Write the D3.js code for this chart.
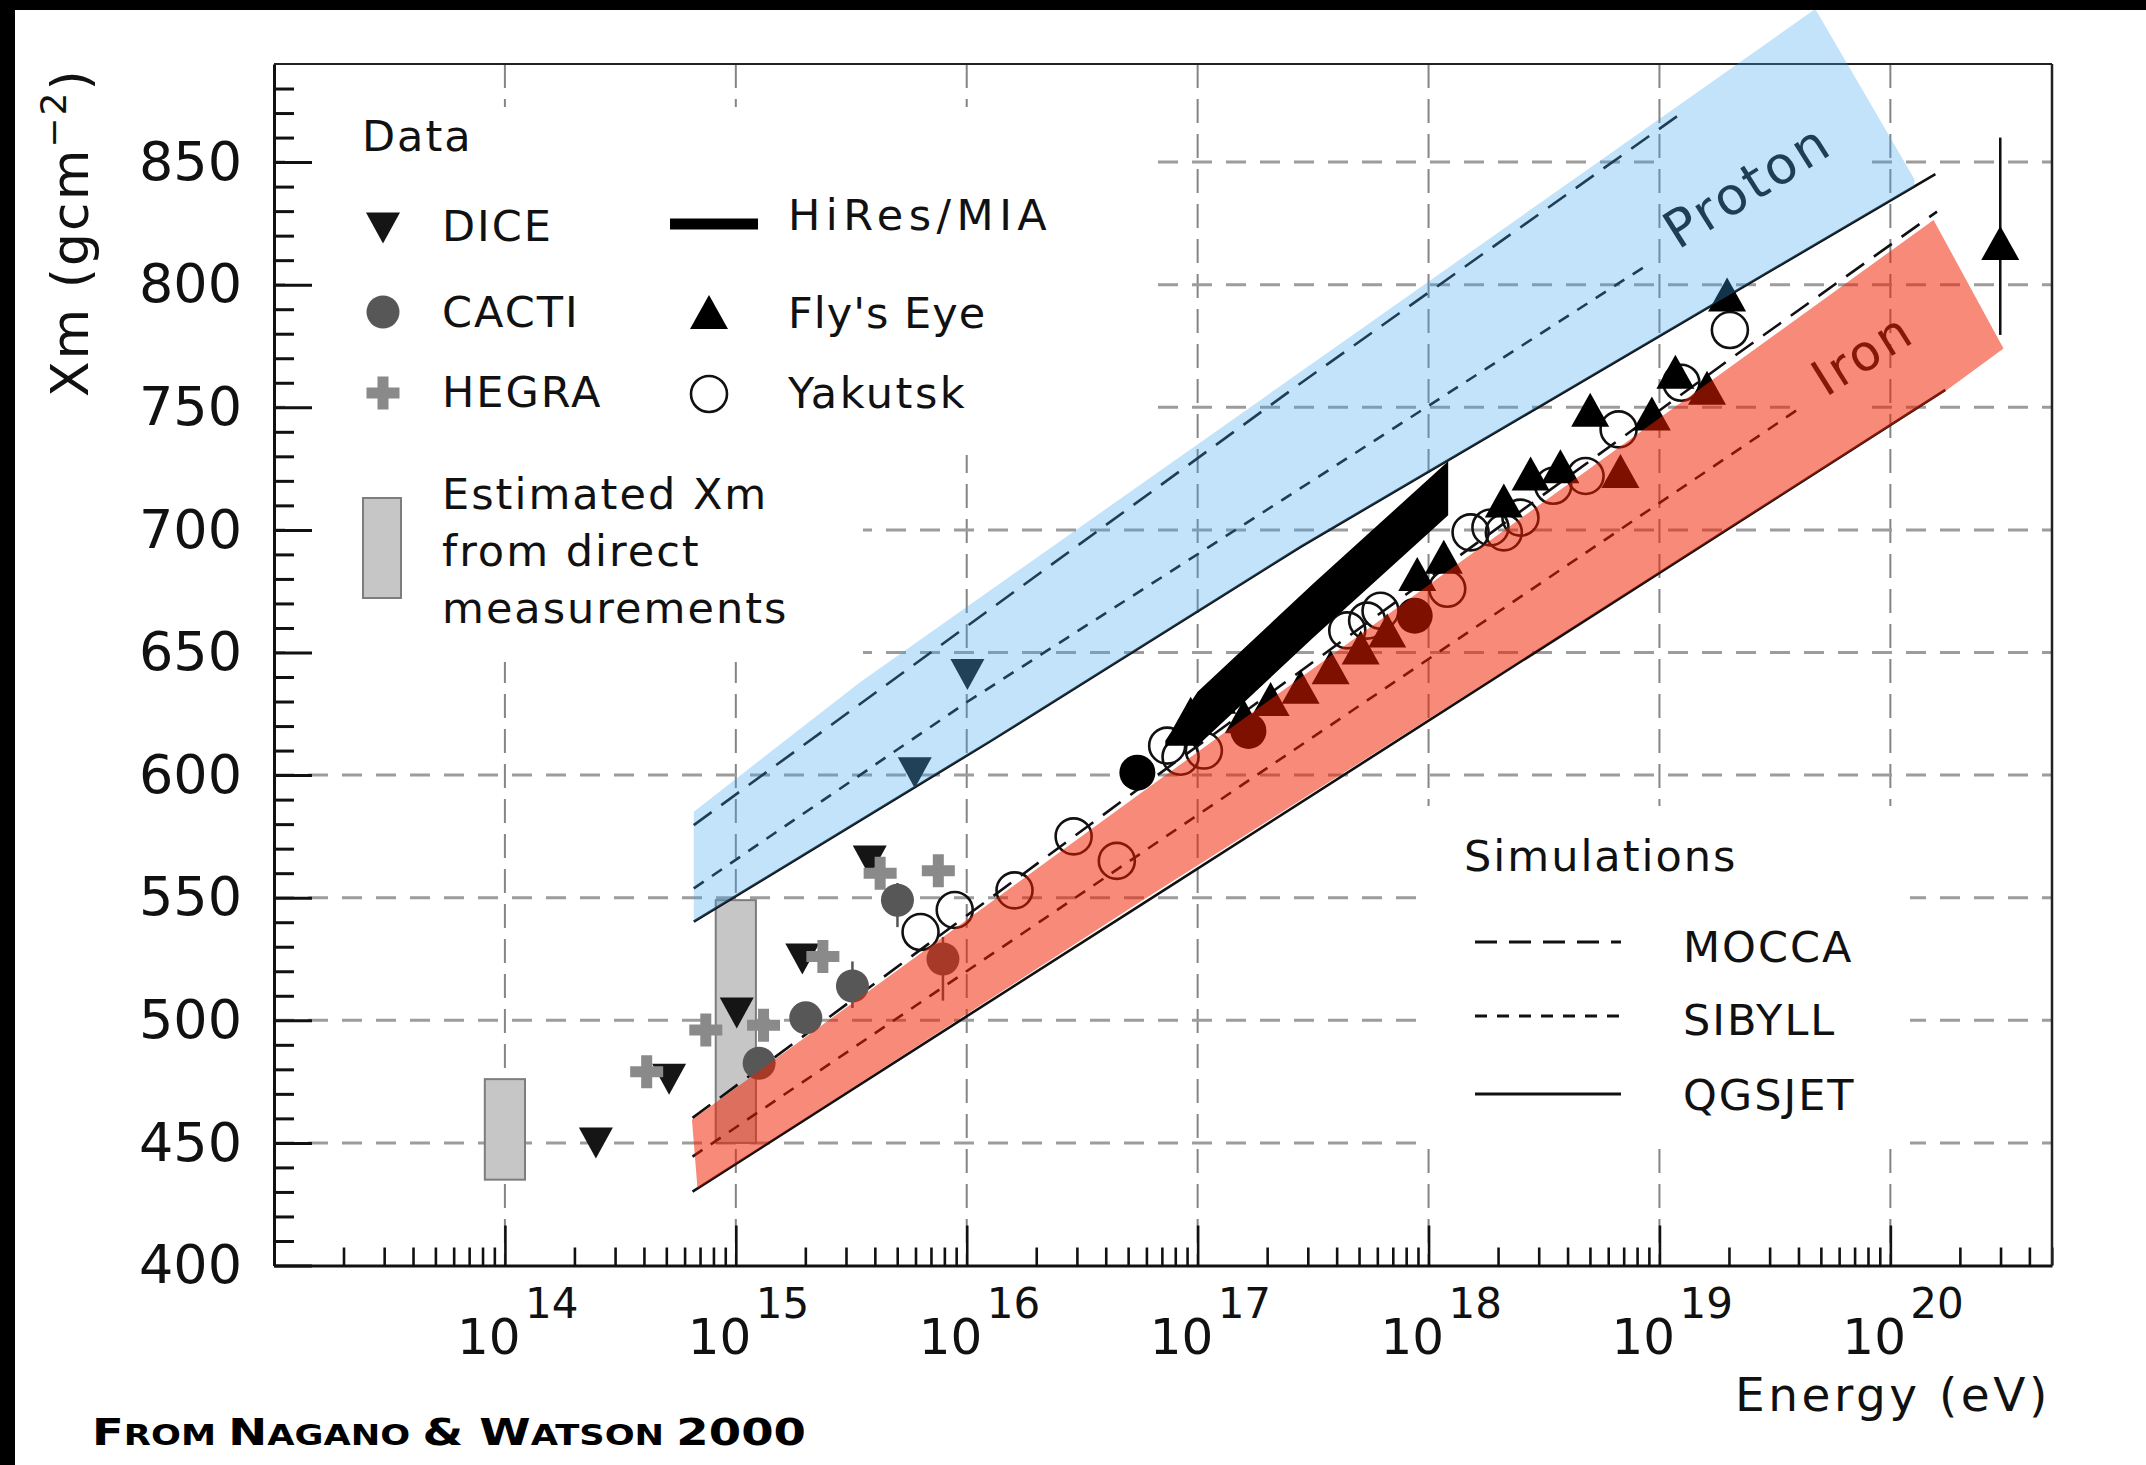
<!DOCTYPE html>
<html><head><meta charset="utf-8">
<script src="https://cdn.jsdelivr.net/npm/d3@7"></script>
<style>html,body{margin:0;padding:0;background:#fff;} svg{display:block}</style>
</head><body>
<svg id="chart" width="2146" height="1465"></svg>
<script>
// ---------------- data (log10 of energy in eV, Xm in g/cm^2) ----------------
const xTickExps = [14, 15, 16, 17, 18, 19, 20];
const yTicks = [400, 450, 500, 550, 600, 650, 700, 750, 800, 850];

const diceLogE = [14.394, 14.711, 15.004, 15.288, 15.58, 15.775, 16.003];
const diceXm   = [450, 476, 503, 525, 565, 601, 641];

const cactiLogE  = [15.101, 15.303, 15.505, 15.70, 15.897];
const cactiXm    = [482.5, 501, 514, 549, 525];
const cactiErrLo = [482.5, 501, 505, 538, 508];
const cactiErrHi = [482.5, 501, 524, 556, 534];

const hegraLogE = [14.614, 14.870, 15.12, 15.377, 15.625, 15.877];
const hegraXm   = [479, 496, 498, 526, 560, 561];

const flysEyeLogE = [16.97, 17.085, 17.2, 17.316, 17.446, 17.576, 17.706, 17.821, 17.951, 18.066,
                     18.326, 18.442, 18.571, 18.70, 18.831, 18.967, 19.069, 19.206, 19.293, 20.476];
const flysEyeXm   = [625, 632, 624, 631, 636, 644, 652, 659, 682, 689,
                     712, 723, 726, 749, 724, 747.5, 764.5, 758, 796, 817];
const flysEyeErrLogE = [20.476];
const flysEyeErrLo   = [779.5];
const flysEyeErrHi   = [860];

const yakutskLogE = [15.80, 15.948, 16.207, 16.463, 16.65, 16.868, 16.926, 17.027, 17.648, 17.734, 17.792,
                     18.081, 18.182, 18.268, 18.326, 18.398, 18.54, 18.68, 18.823, 19.095, 19.305];
const yakutskXm   = [536, 545, 553, 575, 565, 612, 607.5, 610, 659, 663, 667,
                     676, 699, 701, 699, 705, 718, 722, 741, 760, 781.5];

const otherLogE = [16.739, 17.22, 17.94];
const otherXm   = [601, 618, 665];

const hiresLogE = [16.86, 17.0, 17.5, 18.085];
const hiresLo   = [612, 612, 656, 706];
const hiresHi   = [614, 634, 678, 728];

const estLogE = [14, 15];
const estLo   = [435, 450];
const estHi   = [476, 549];

const moccaPLogE  = [14.818, 15.541, 17.446, 19.09];
const moccaPXm    = [579.6, 629.2, 759.8, 869.6];
const sibyllPLogE = [14.818, 16.003, 17.446, 18.961];
const sibyllPXm   = [553.8, 629.9, 717.0, 808.9];
const qgsjetPLogE = [14.818, 16.104, 17.446, 20.195];
const qgsjetPXm   = [540.2, 613.9, 693.1, 845.1];
const moccaFeLogE  = [14.8125, 16.753, 19.32, 20.202];
const moccaFeXm    = [460.2, 595, 770.6, 829.8];
const sibyllFeLogE = [14.8125, 16.753, 19.596];
const sibyllFeXm   = [444.4, 568, 748.9];
const qgsjetFeLogE = [14.8125, 16.753, 20.238];
const qgsjetFeXm   = [430.1, 547, 757.1];

const protonBandLogE = [14.818, 15.541, 19.675, 20.104, 20.104, 17.446, 16.104, 14.818];
const protonBandXm   = [585.1, 638.1, 912.4, 843.1, 840.1, 693.1, 613.9, 540.2];
const ironBandLogE   = [14.81, 16.753, 20.187, 20.49, 20.245, 16.753, 14.834];
const ironBandXm     = [459.4, 592.6, 826.4, 774, 757, 548.4, 431.5];

const dataLegendLabels = ["DICE", "CACTI", "HEGRA", "HiRes/MIA", "Fly's Eye", "Yakutsk"];
const estLegendLines = ["Estimated Xm", "from direct", "measurements"];
const simLegendLabels = ["MOCCA", "SIBYLL", "QGSJET"];
const protonLabel = {text: "Proton", logE: 19.08, xm: 814};
const ironLabel   = {text: "Iron", logE: 19.72, xm: 754};

// ---------------- setup ----------------
const W = 2146, H = 1465;
const m = {left: 274, right: 2052, top: 64, bottom: 1265.5};
const FONT = "DejaVu Sans";
const INK = "#111";
const svg = d3.select("#chart");
const x = d3.scaleLog().domain([1e13, Math.pow(10, 20.7)]).range([m.left, m.right]);
const y = d3.scaleLinear().domain([400, 890]).range([m.bottom, m.top]);
const X = le => x(Math.pow(10, le));
const zip = (a, b) => a.map((v, i) => [v, b[i]]);

svg.append("rect").attr("width", W).attr("height", H).attr("fill", "#fff");

// ---------------- grid ----------------
const grid = svg.append("g");
grid.selectAll("line.gv").data(xTickExps).join("line").attr("class", "gv")
  .attr("x1", d => X(d)).attr("x2", d => X(d)).attr("y1", m.top).attr("y2", m.bottom)
  .attr("stroke", "#858585").attr("stroke-width", 2).attr("stroke-dasharray", "24,11");
grid.selectAll("line.gh").data(yTicks.filter(v => v > 400)).join("line").attr("class", "gh")
  .attr("x1", m.left).attr("x2", m.right).attr("y1", d => y(d)).attr("y2", d => y(d))
  .attr("stroke", "#9c9c9c").attr("stroke-width", 3).attr("stroke-dasharray", "20,14");

// white boxes behind legends and labels (hide grid as in the original)
const boxes = [
  [285, 107, 1150, 455], [285, 455, 863, 662],
  [1420, 806, 1910, 1149],
  [1661, 130, 1870, 195], [1797, 395, 1870, 420]
];
svg.append("g").selectAll("rect").data(boxes).join("rect")
  .attr("x", d => d[0]).attr("y", d => d[1]).attr("width", d => d[2] - d[0]).attr("height", d => d[3] - d[1])
  .attr("fill", "#fff");

// ---------------- estimated Xm boxes ----------------
const estHalf = 0.087;
svg.append("g").selectAll("rect").data(estLogE.map((e, i) => ({e, lo: estLo[i], hi: estHi[i]}))).join("rect")
  .attr("x", d => X(d.e - estHalf)).attr("width", d => X(d.e + estHalf) - X(d.e - estHalf))
  .attr("y", d => y(d.hi)).attr("height", d => y(d.lo) - y(d.hi))
  .attr("fill", "#c6c6c6").attr("stroke", "#7d7d7d").attr("stroke-width", 2);

// ---------------- simulation lines ----------------
const line = d3.line().x(d => X(d[0])).y(d => y(d[1]));
const dashM = "22,12", dashS = "12,10";
const sims = [
  [zip(moccaPLogE, moccaPXm), dashM], [zip(sibyllPLogE, sibyllPXm), dashS], [zip(qgsjetPLogE, qgsjetPXm), null],
  [zip(moccaFeLogE, moccaFeXm), dashM], [zip(sibyllFeLogE, sibyllFeXm), dashS], [zip(qgsjetFeLogE, qgsjetFeXm), null]
];
svg.append("g").selectAll("path").data(sims).join("path")
  .attr("d", d => line(d[0])).attr("fill", "none").attr("stroke", INK).attr("stroke-width", 2.6)
  .attr("stroke-dasharray", d => d[1]);

// ---------------- markers ----------------
const triDown = (w, h) => `M${-w/2},${-h/2}L${w/2},${-h/2}L0,${h/2}Z`;
const triUp = (w, h) => `M${-w/2},${h/2}L${w/2},${h/2}L0,${-h/2}Z`;
const cross = (s, t) => `M${-t},${-s}H${t}V${-t}H${s}V${t}H${t}V${s}H${-t}V${t}H${-s}V${-t}H${-t}Z`;

const pts = svg.append("g");
// Yakutsk open circles
pts.selectAll("circle.yak").data(zip(yakutskLogE, yakutskXm)).join("circle").attr("class", "yak")
  .attr("cx", d => X(d[0])).attr("cy", d => y(d[1])).attr("r", 18)
  .attr("fill", "none").attr("stroke", INK).attr("stroke-width", 2.6);
// HiRes/MIA band
const area = d3.area().x(d => X(d[0])).y0(d => y(d[1])).y1(d => y(d[2]));
pts.append("path").datum(hiresLogE.map((e, i) => [e, hiresLo[i], hiresHi[i]]))
  .attr("d", area).attr("fill", "#000");
// Fly's Eye error bar
pts.selectAll("line.fe").data(flysEyeErrLogE.map((e, i) => [e, flysEyeErrLo[i], flysEyeErrHi[i]])).join("line").attr("class", "fe")
  .attr("x1", d => X(d[0])).attr("x2", d => X(d[0])).attr("y1", d => y(d[1])).attr("y2", d => y(d[2]))
  .attr("stroke", INK).attr("stroke-width", 2.5);
// Fly's Eye triangles
pts.selectAll("path.fly").data(zip(flysEyeLogE, flysEyeXm)).join("path").attr("class", "fly")
  .attr("transform", d => `translate(${X(d[0])},${y(d[1])})`).attr("d", triUp(38, 34)).attr("fill", "#000");
// other filled circles
pts.selectAll("circle.oth").data(zip(otherLogE, otherXm)).join("circle").attr("class", "oth")
  .attr("cx", d => X(d[0])).attr("cy", d => y(d[1])).attr("r", 18).attr("fill", "#000");
// DICE
pts.selectAll("path.dice").data(zip(diceLogE, diceXm)).join("path").attr("class", "dice")
  .attr("transform", d => `translate(${X(d[0])},${y(d[1])})`).attr("d", triDown(34, 31)).attr("fill", "#151515");
// HEGRA
pts.selectAll("path.heg").data(zip(hegraLogE, hegraXm)).join("path").attr("class", "heg")
  .attr("transform", d => `translate(${X(d[0])},${y(d[1])})`).attr("d", cross(16.5, 5.5)).attr("fill", "#8a8a8a");
// CACTI error bars + circles
pts.selectAll("line.cac").data(cactiLogE.map((e, i) => [e, cactiErrLo[i], cactiErrHi[i]])).join("line").attr("class", "cac")
  .attr("x1", d => X(d[0])).attr("x2", d => X(d[0])).attr("y1", d => y(d[1])).attr("y2", d => y(d[2]))
  .attr("stroke", "#555").attr("stroke-width", 2.5);
pts.selectAll("circle.cac").data(zip(cactiLogE, cactiXm)).join("circle").attr("class", "cac")
  .attr("cx", d => X(d[0])).attr("cy", d => y(d[1])).attr("r", 16.5).attr("fill", "#575757");

// ---------------- axes ----------------
const gy = svg.append("g").attr("transform", `translate(${m.left},0)`)
  .call(d3.axisLeft(y).tickValues(yTicks).tickSize(-38).tickSizeOuter(0).tickPadding(32).tickFormat(d3.format("d")));
gy.attr("font-family", FONT).attr("font-size", 54);
gy.selectAll(".tick line").attr("stroke", INK).attr("stroke-width", 3);
gy.selectAll(".tick text").attr("fill", INK);
gy.select(".domain").attr("stroke", INK).attr("stroke-width", 3);

const yMinor = d3.range(410, 890, 10).filter(v => v % 50 !== 0);
const gym = svg.append("g").attr("transform", `translate(${m.left},0)`)
  .call(d3.axisLeft(y).tickValues(yMinor).tickSize(-20).tickFormat(""));
gym.select(".domain").remove();
gym.selectAll(".tick line").attr("stroke", INK).attr("stroke-width", 3);

const gx = svg.append("g").attr("transform", `translate(0,${m.bottom})`)
  .call(d3.axisBottom(x).tickValues(xTickExps.map(e => Math.pow(10, e))).tickSize(-40).tickSizeOuter(0).tickFormat(""));
gx.selectAll(".tick line").attr("stroke", INK).attr("stroke-width", 2.6);
gx.select(".domain").attr("stroke", INK).attr("stroke-width", 3);

const xMinor = [];
for (let k = 13; k <= 20; k++) for (let j = 2; j <= 9; j++) { const v = j * Math.pow(10, k); if (v < Math.pow(10, 20.7)) xMinor.push(v); }
const gxm = svg.append("g").attr("transform", `translate(0,${m.bottom})`)
  .call(d3.axisBottom(x).tickValues(xMinor).tickSize(-18).tickFormat(""));
gxm.select(".domain").remove();
gxm.selectAll(".tick line").attr("stroke", INK).attr("stroke-width", 2.6);

// top & right frame
svg.append("line").attr("x1", m.left).attr("x2", m.right).attr("y1", m.top).attr("y2", m.top).attr("stroke", "#222").attr("stroke-width", 2);
svg.append("line").attr("x1", m.right).attr("x2", m.right).attr("y1", m.top).attr("y2", m.bottom).attr("stroke", "#222").attr("stroke-width", 2.5);

// x tick labels 10^n
const xl = svg.append("g").attr("font-family", FONT).attr("fill", INK);
xl.selectAll("text.b").data(xTickExps).join("text").attr("class", "b")
  .attr("x", d => X(d) - 48).attr("y", 1354).attr("font-size", 50).text("10");
xl.selectAll("text.s").data(xTickExps).join("text").attr("class", "s")
  .attr("x", d => X(d) + 20).attr("y", 1318).attr("font-size", 42).text(d => d);

// axis titles
svg.append("text").attr("x", 1735).attr("y", 1411).attr("font-family", FONT).attr("font-size", 47)
  .attr("letter-spacing", 3.5).attr("fill", INK).text("Energy (eV)");
const yt = svg.append("text").attr("transform", "translate(88,397) rotate(-90)")
  .attr("font-family", FONT).attr("font-size", 52).attr("letter-spacing", 2).attr("fill", INK);
yt.append("tspan").text("Xm (gcm");
yt.append("tspan").attr("font-size", 36).attr("dy", -22).text("\u22122");
yt.append("tspan").attr("dy", 22).text(")");

// ---------------- legends ----------------
const lg = svg.append("g").attr("font-family", FONT).attr("font-size", 43).attr("letter-spacing", 2).attr("fill", INK);
lg.append("text").attr("x", 362).attr("y", 151).text("Data");
const leftCol = [[dataLegendLabels[0], 241, 228], [dataLegendLabels[1], 327, 312], [dataLegendLabels[2], 407, 393]];
lg.selectAll("text.lc").data(leftCol).join("text").attr("class", "lc").attr("x", 442).attr("y", d => d[1]).text(d => d[0]);
lg.append("path").attr("transform", "translate(383,228)").attr("d", triDown(34, 31)).attr("fill", "#151515");
lg.append("circle").attr("cx", 383).attr("cy", 312).attr("r", 16.5).attr("fill", "#575757");
lg.append("path").attr("transform", "translate(383,393)").attr("d", cross(16.5, 5.5)).attr("fill", "#8a8a8a");
const rightCol = [[dataLegendLabels[3], 230, 5.5], [dataLegendLabels[4], 328, 1], [dataLegendLabels[5], 408, 2.5]];
lg.selectAll("text.rc").data(rightCol).join("text").attr("class", "rc").attr("x", 788).attr("y", d => d[1])
  .attr("letter-spacing", d => d[2]).text(d => d[0]);
lg.append("line").attr("x1", 670).attr("x2", 758).attr("y1", 224).attr("y2", 224).attr("stroke", "#000").attr("stroke-width", 11);
lg.append("path").attr("transform", "translate(709,312)").attr("d", triUp(38, 34)).attr("fill", "#000");
lg.append("circle").attr("cx", 709).attr("cy", 394).attr("r", 18).attr("fill", "none").attr("stroke", INK).attr("stroke-width", 2.6);
lg.append("rect").attr("x", 363).attr("y", 498).attr("width", 38).attr("height", 100)
  .attr("fill", "#c6c6c6").attr("stroke", "#7d7d7d").attr("stroke-width", 2);
lg.selectAll("text.est").data(estLegendLines).join("text").attr("class", "est")
  .attr("x", 442).attr("y", (d, i) => [509, 566, 623][i]).text(d => d);

lg.append("text").attr("x", 1464).attr("y", 871).text("Simulations");
const simRows = [[simLegendLabels[0], 962, 942, dashM], [simLegendLabels[1], 1035, 1016, dashS], [simLegendLabels[2], 1110, 1094, null]];
lg.selectAll("text.sim").data(simRows).join("text").attr("class", "sim").attr("x", 1683).attr("y", d => d[1]).text(d => d[0]);
lg.selectAll("line.sim").data(simRows).join("line").attr("class", "sim")
  .attr("x1", 1475).attr("x2", 1621).attr("y1", d => d[2]).attr("y2", d => d[2])
  .attr("stroke", INK).attr("stroke-width", 3).attr("stroke-dasharray", d => d[3]);

// Proton / Iron labels (drawn below the coloured overlays)
[[protonLabel, 52], [ironLabel, 50]].forEach(([l, fs]) => {
  svg.append("text").attr("transform", `translate(${X(l.logE)},${y(l.xm)}) rotate(-32)`)
    .attr("font-family", FONT).attr("font-size", fs).attr("letter-spacing", 3).attr("fill", INK).text(l.text);
});

// ---------------- coloured overlays ----------------
const poly = d3.line().x(d => X(d[0])).y(d => y(d[1]));
svg.append("path").attr("d", poly(zip(protonBandLogE, protonBandXm)) + "Z")
  .attr("fill", "rgb(60,165,240)").attr("fill-opacity", 0.31);
svg.append("path").attr("d", poly(zip(ironBandLogE, ironBandXm)) + "Z")
  .attr("fill", "rgb(242,30,0)").attr("fill-opacity", 0.52);

// black frame stripes of the original slide
svg.append("rect").attr("x", 0).attr("y", 0).attr("width", W).attr("height", 10).attr("fill", "#000");
svg.append("rect").attr("x", 0).attr("y", 0).attr("width", 15).attr("height", H).attr("fill", "#000");

// credit
const cr = svg.append("text").attr("x", 92).attr("y", 1445).attr("font-family", FONT).attr("font-weight", "bold")
  .attr("font-size", 37).attr("fill", "#000").attr("textLength", 714).attr("lengthAdjust", "spacingAndGlyphs");
[["F", 37], ["ROM ", 28], ["N", 37], ["AGANO ", 28], ["& ", 37], ["W", 37], ["ATSON ", 28], ["2000", 37]]
  .forEach(p => cr.append("tspan").attr("font-size", p[1]).text(p[0]));
</script>
</body></html>
